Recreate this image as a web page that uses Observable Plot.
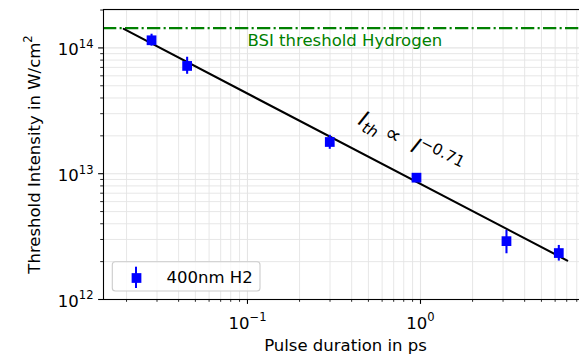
<!DOCTYPE html>
<html><head><meta charset="utf-8">
<script src="https://cdn.jsdelivr.net/npm/d3@7"></script>
<script src="https://cdn.jsdelivr.net/npm/@observablehq/plot@0.6"></script>
<style>
body{margin:0;background:#fff;}
#wrap{width:579px;height:361px;overflow:hidden;position:relative;background:#fff;}
</style></head><body><div id="wrap"></div>
<script>
// ---- data ----
const pulseDuration      = [0.0279, 0.0448, 0.299, 0.948, 3.14, 6.30];      // ps
const thresholdIntensity = [1.15e14, 7.19e13, 1.787e13, 9.30e12, 2.91e12, 2.34e12];
const intensityLow       = [1.032e14, 6.17e13, 1.563e13, 8.65e12, 2.31e12, 2.02e12];
const intensityHigh      = [1.285e14, 8.43e13, 2.02e13, 1.0e13, 3.54e12, 2.69e12];
const fitPulse     = [0.01928, 7.05];
const fitIntensity = [1.415e14, 2.04e12];
const bsiThreshold = 1.436e14;
const bsiLabel = "BSI threshold Hydrogen";
const bsiLabelPos = [0.1, 1.045e14];
const fitLabelPos = [0.43, 2.5e13];
const seriesName = "400nm H2";
const xTicks = [0.1, 1];
const xTickLabels = ["10^\u22121", "10^0"];
const yTicks = [1e12, 1e13, 1e14];
const yTickLabels = ["10^12", "10^13", "10^14"];
const xMinor = [0.02,0.03,0.04,0.05,0.06,0.07,0.08,0.09,0.2,0.3,0.4,0.5,0.6,0.7,0.8,0.9,2,3,4,5,6,7,8,9];
const yMinor = [2e12,3e12,4e12,5e12,6e12,7e12,8e12,9e12,2e13,3e13,4e13,5e13,6e13,7e13,8e13,9e13,2e14];
const xLabel = "Pulse duration in ps";
const yLabel = "Threshold Intensity in W/cm^2";

const FS = 16.5;
const FA = 22;
const data = pulseDuration.map((x, i) => ({x, y: thresholdIntensity[i], lo: intensityLow[i], hi: intensityHigh[i]}));
const fit = fitPulse.map((x, i) => ({x, y: fitIntensity[i]}));
const grid = "#e4e4e4";

const plot = Plot.plot({
  width: 588, height: 361,
  marginLeft: 103, marginRight: 1, marginTop: 9, marginBottom: 62,
  x: {type: "log", domain: [0.01472, 9.23]},
  y: {type: "log", domain: [1e12, 2.02e14]},
  style: {fontFamily: "'DejaVu Sans', sans-serif", fontSize: FS + "px", background: "white", maxWidth: "none", overflow: "visible", color: "black"},
  marks: [
    Plot.ruleX(xMinor, {stroke: grid, strokeWidth: 0.9}),
    Plot.ruleY(yMinor, {stroke: grid, strokeWidth: 0.9}),
    Plot.ruleX(xTicks, {stroke: grid, strokeWidth: 1.1}),
    Plot.ruleY(yTicks, {stroke: grid, strokeWidth: 1.1}),
    Plot.ruleY([bsiThreshold], {stroke: "#008000", strokeWidth: 2.08, strokeDasharray: "13.3,3.3,2.1,3.3"}),
    Plot.text([{x: bsiLabelPos[0], y: bsiLabelPos[1], t: bsiLabel}], {x: "x", y: "y", text: "t", fill: "#008000", textAnchor: "start", lineAnchor: "bottom", fontSize: FS}),
    Plot.line(fit, {x: "x", y: "y", stroke: "black", strokeWidth: 2.08}),
    Plot.ruleX(data, {x: "x", y1: "lo", y2: "hi", stroke: "blue", strokeWidth: 2.08}),
    Plot.dot(data, {x: "x", y: "y", symbol: "square", r: 5.5, fill: "blue"}),
    Plot.text([{x: fitLabelPos[0], y: fitLabelPos[1], t: "I_th \u221D I^\u22120.71"}], {x: "x", y: "y", text: "t", rotate: 27.5, textAnchor: "start", lineAnchor: "bottom", fontSize: FA, className: "annot"}),
    // legend
    Plot.rect([0], {insetLeft: 9.3, insetRight: 327, insetTop: 252.7, insetBottom: 8, rx: 3, fill: "white", fillOpacity: 0.8, stroke: "#cccccc", strokeWidth: 1.1}),
    Plot.rect([0], {insetLeft: 32, insetRight: 450, insetTop: 257.7, insetBottom: 11, fill: "blue"}),
    Plot.dot([0], {frameAnchor: "bottom-left", dx: 33, dy: -21.5, symbol: "square", r: 5.5, fill: "blue"}),
    Plot.text([seriesName], {frameAnchor: "bottom-left", dx: 63, dy: -16.7, text: d => d, textAnchor: "start", lineAnchor: "bottom", fontSize: FS}),
    // frame and axes
    Plot.frame({stroke: "black", strokeWidth: 1.1}),
    Plot.axisX(xTicks, {tickSize: 4.9, tickFormat: () => "", label: null, strokeWidth: 1.1}),
    Plot.axisX(xMinor, {tickSize: 2.8, tickFormat: () => "", label: null, strokeWidth: 0.85}),
    Plot.axisY(yTicks, {tickSize: 4.9, tickFormat: () => "", label: null, strokeWidth: 1.1}),
    Plot.axisY(yMinor, {tickSize: 2.8, tickFormat: () => "", label: null, strokeWidth: 0.85}),
    Plot.text(yTicks.map((v, i) => ({v, t: yTickLabels[i]})), {y: "v", text: "t", frameAnchor: "left", dx: -10, dy: 7.3, textAnchor: "end", lineAnchor: "bottom", fontSize: FS, className: "sup"}),
    Plot.text(xTicks.map((v, i) => ({v, t: xTickLabels[i]})), {x: "v", text: "t", frameAnchor: "bottom", dy: 29.3, textAnchor: "middle", lineAnchor: "bottom", fontSize: FS, className: "sup"}),
    Plot.text([xLabel], {frameAnchor: "bottom", dy: 51, text: d => d, textAnchor: "middle", lineAnchor: "bottom", fontSize: FS}),
    Plot.text([yLabel], {frameAnchor: "left", dx: -64, rotate: -90, text: d => d, textAnchor: "middle", lineAnchor: "bottom", fontSize: FS, className: "sup"})
  ]
});
plot.style.maxWidth = "none";
const svg = d3.select(plot);
svg.selectAll(".sup text").each(function() {
  const s = this.textContent, k = s.indexOf("^");
  if (k < 0) return;
  const t = d3.select(this);
  t.text(null);
  t.append("tspan").text(s.slice(0, k));
  t.append("tspan").attr("dy", -7.5).attr("font-size", FS * 0.7).text(s.slice(k + 1));
});
svg.selectAll(".annot text").each(function() {
  const t = d3.select(this);
  t.text(null).style("white-space", "pre");
  t.append("tspan").attr("font-style", "italic").text("I");
  t.append("tspan").attr("font-style", "italic").attr("font-size", FA * 0.7).attr("dy", 4.5).text("th");
  t.append("tspan").attr("dy", -4.5).text(" \u221D  ");
  t.append("tspan").attr("font-style", "italic").text("I");
  t.append("tspan").attr("font-size", FA * 0.7).attr("dy", -9).text("\u22120.71");
});
document.getElementById("wrap").appendChild(plot);
</script></body></html>
